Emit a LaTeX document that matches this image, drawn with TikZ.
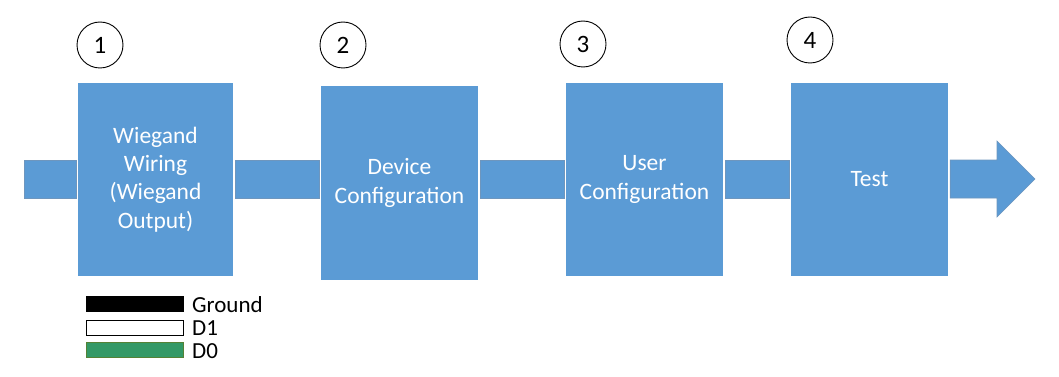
\documentclass[tikz,border=0pt]{standalone}
\usepackage{fontspec}
\setmainfont{Carlito}
\definecolor{boxblue}{RGB}{91,155,213}
\definecolor{barline}{RGB}{110,150,190}
\definecolor{dzero}{RGB}{51,153,102}
\definecolor{dzeroline}{RGB}{84,130,53}
\tikzset{
  stepbox/.style={rectangle, fill=boxblue, draw=none, text=white, align=center,
    inner sep=0pt, font=\fontsize{23.5}{28.3}\selectfont},
  barshape/.style={fill=boxblue, draw=barline, line width=0.6pt},
  numcircle/.style={circle, draw=black, line width=0.9pt, minimum size=46pt,
    inner sep=0pt, font=\fontsize{25}{30}\selectfont},
  legendkey/.style={rectangle, minimum width=97pt, minimum height=15pt, inner sep=0pt, line width=0.9pt},
  legendtext/.style={anchor=base west, inner sep=0pt, font=\fontsize{23}{27}\selectfont}
}
\begin{document}
\begin{tikzpicture}[x=1pt,y=-1pt]
\useasboundingbox (0,0) rectangle (1059,377);
% boxes
\node[stepbox, minimum width=155pt, minimum height=193pt] (b1) at (155.5,179.5) {Wiegand\\Wiring\\(Wiegand\\Output)};
\node[stepbox, minimum width=157pt, minimum height=194pt] (b2) at (399.5,183) {Device\\Configuration};
\node[stepbox, minimum width=157pt, minimum height=193pt] (b3) at (644.5,179.5) {User\\Configuration};
\node[stepbox, minimum width=157pt, minimum height=193pt] (b4) at (869.5,179.5) {Test};
% circles
\node[numcircle] (c1) at (100,45) {1};
\node[numcircle] (c2) at (343,45) {2};
\node[numcircle] (c3) at (583,44) {3};
\node[numcircle] (c4) at (810,40) {4};
% bars
\coordinate (start) at (24,160);
\coordinate (tip) at (1035,179);
\draw[barshape] (start) rectangle ([xshift=-2pt]b1.west |- 0,198);
\draw[barshape] ([xshift=2pt]b1.east |- 0,160) rectangle ([xshift=-2pt]b2.west |- 0,198);
\draw[barshape] ([xshift=2pt]b2.east |- 0,160) rectangle ([xshift=-2pt]b3.west |- 0,198);
\draw[barshape] ([xshift=2pt]b3.east |- 0,160) rectangle ([xshift=-2pt]b4.west |- 0,198);
\draw[barshape] ([xshift=2pt]b4.east |- 0,160) -- (997,160) -- (997,141) -- (tip)
  -- (997,217) -- (997,198) -- ([xshift=2pt]b4.east |- 0,198) -- cycle;
% legend
\node[legendkey, fill=black, draw=black] (kg) at (134.5,303.5) {};
\node[legendkey, fill=white, draw=black] (k1) at (134.5,327.5) {};
\node[legendkey, fill=dzero, draw=dzeroline] (k0) at (134.5,350) {};
\node[legendtext] (lg) at (192,312) {Ground};
\node[legendtext] (l1) at (192,335) {D1};
\node[legendtext] (l0) at (192,358) {D0};
\end{tikzpicture}
\end{document}
